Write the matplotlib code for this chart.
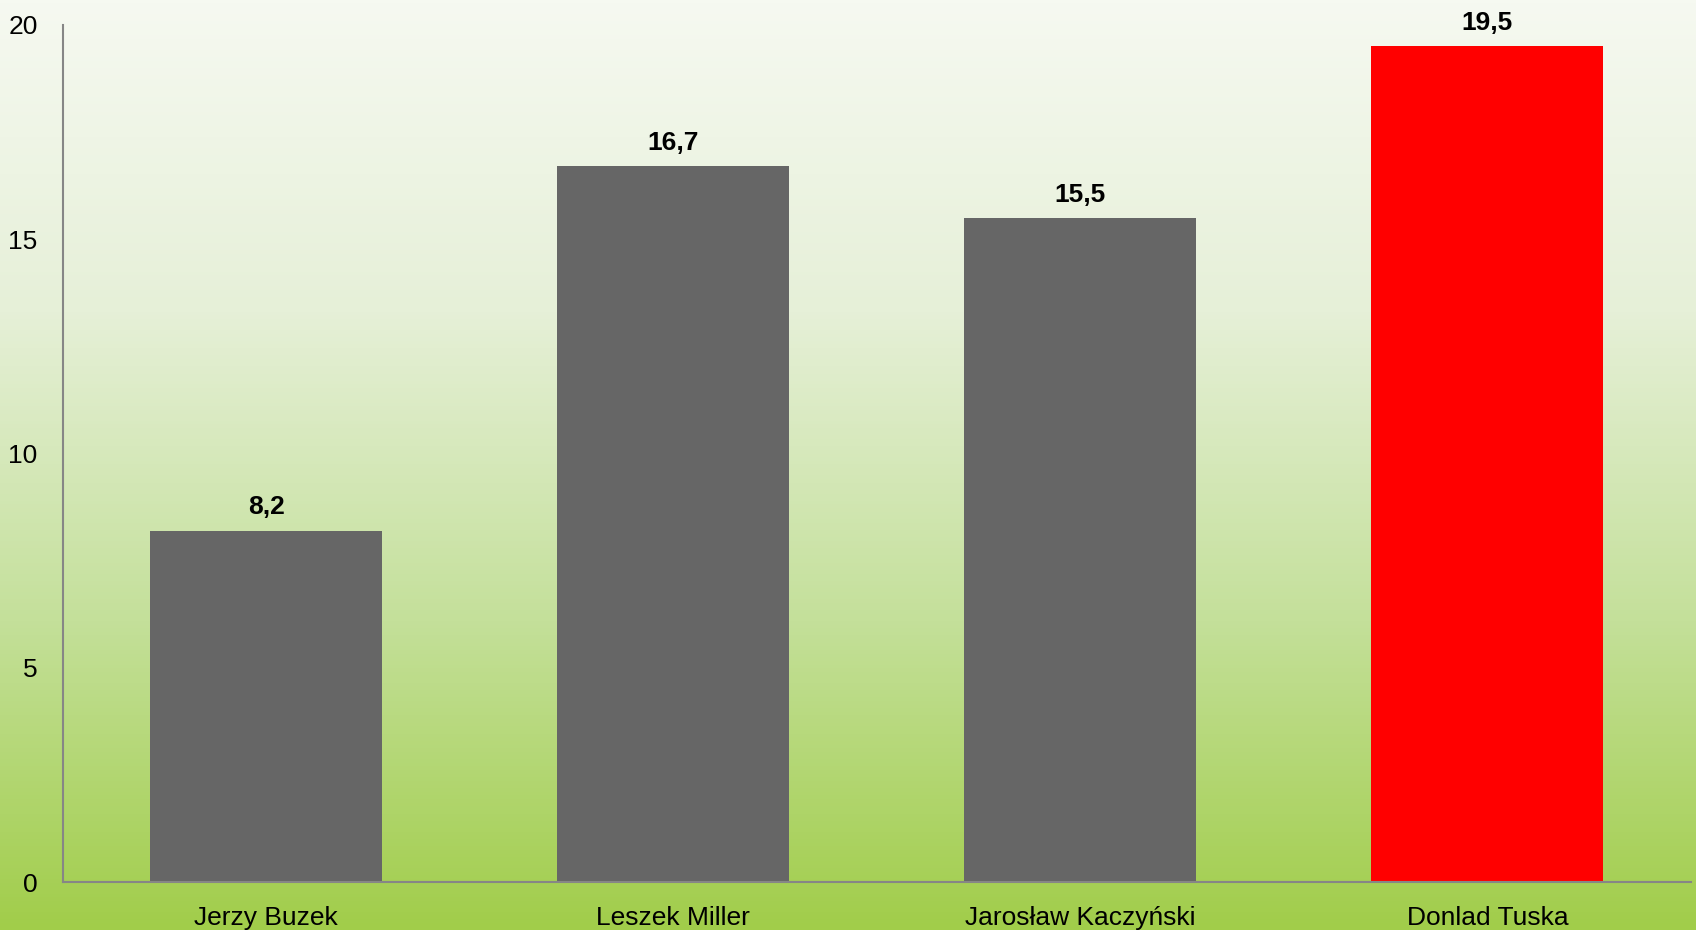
import matplotlib.pyplot as plt
import numpy as np
from matplotlib.colors import LinearSegmentedColormap

names = ['Jerzy Buzek', 'Leszek Miller', 'Jarosław Kaczyński', 'Donlad Tuska']
values = [8.2, 16.7, 15.5, 19.5]
labels = ['8,2', '16,7', '15,5', '19,5']
colors = ['#666666', '#666666', '#666666', '#ff0000']

plt.rcParams['font.family'] = ['Liberation Sans', 'DejaVu Sans']

fig = plt.figure(figsize=(16.96, 9.3), dpi=100)

# gradient tło
bg = fig.add_axes([0, 0, 1, 1], zorder=0)
cmap = LinearSegmentedColormap.from_list('bg', ['#f6f9f1', '#e6f0d8', '#c4e09a', '#a1cd4a'])
grad = np.linspace(0, 1, 256).reshape(-1, 1)
bg.imshow(grad, aspect='auto', cmap=cmap, extent=[0, 1, 0, 1])
bg.axis('off')

ax = fig.add_axes([62.5 / 1696, 1 - 882 / 930, (1691 - 62.5) / 1696, (882 - 25) / 930], zorder=1)
ax.patch.set_alpha(0)

x = np.arange(len(names))
ax.bar(x, values, width=0.57, color=colors, zorder=2)
for xi, v, t in zip(x, values, labels):
    ax.text(xi, v + 0.26, t, ha='center', va='bottom', fontsize=19, fontweight='bold')

ax.set_xlim(-0.5, 3.5)
ax.set_ylim(0, 20)
ax.set_yticks([0, 5, 10, 15, 20])
ax.set_xticks(x)
ax.set_xticklabels(names)
ax.tick_params(axis='both', length=0, labelsize=19)
ax.tick_params(axis='y', pad=18)
ax.tick_params(axis='x', pad=17)
for s in ['top', 'right']:
    ax.spines[s].set_visible(False)
for s in ['left', 'bottom']:
    ax.spines[s].set_color('#868686')
    ax.spines[s].set_linewidth(1.5)

fig.savefig('out.png', dpi=100)
